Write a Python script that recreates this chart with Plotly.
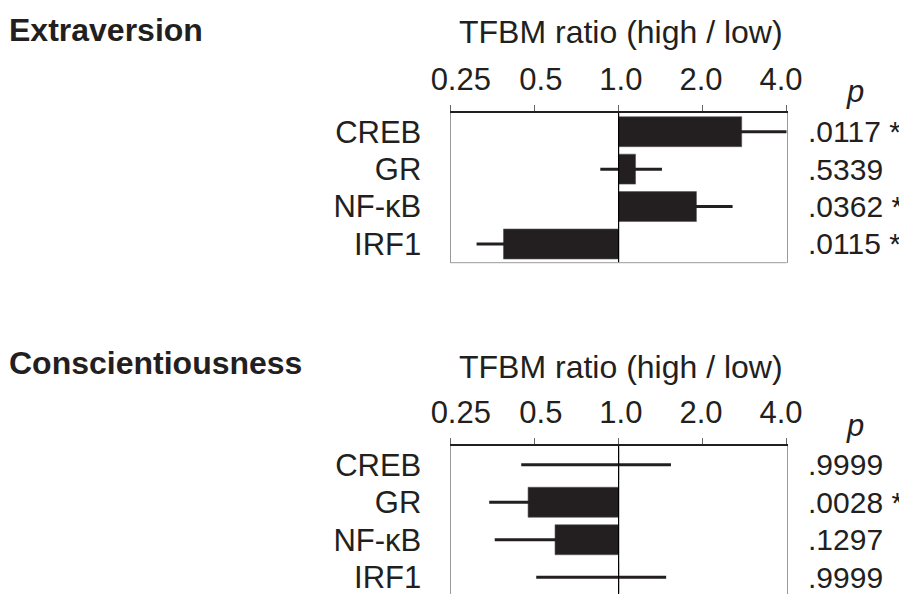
import plotly.graph_objects as go

genes = ["CREB", "GR", "NF-κB", "IRF1"]
tick_vals = [0.25, 0.5, 1.0, 2.0, 4.0]
tick_text = ["0.25", "0.5", "1.0", "2.0", "4.0"]

extra_ratio = [2.76, 1.15, 1.90, 0.387]
extra_lo = [1.89, 0.86, 1.41, 0.31]
extra_hi = [4.0, 1.43, 2.56, 0.48]
extra_p = [".0117 *", ".5339", ".0362 *", ".0115 *"]

consc_ratio = [1.0, 0.474, 0.592, 1.0]
consc_lo = [0.448, 0.344, 0.36, 0.507]
consc_hi = [1.54, 0.65, 0.97, 1.48]
consc_p = [".9999", ".0028 *", ".1297", ".9999"]

panel_titles = ["Extraversion", "Conscientiousness"]
axis_title = "TFBM ratio (high / low)"

FONT = "Liberation Sans, Arial, sans-serif"
INK = "#231f20"
W, H = 907, 594
OFF = 8  # page body margin
rows = list(range(len(genes)))


def px(x):
    return (x - OFF) / W


def py(y):
    return 1 - (y - OFF) / H


fig = go.Figure()

panels = [
    (extra_ratio, extra_lo, extra_hi, "x", "y", "x3"),
    (consc_ratio, consc_lo, consc_hi, "x2", "y2", "x4"),
]

for ratio, lo, hi, xa, ya, xl in panels:
    ex, ey = [], []
    for r, l, h in zip(rows, lo, hi):
        ex += [l, h, None]
        ey += [r, r, None]
    fig.add_trace(go.Scatter(x=ex, y=ey, mode="lines", line=dict(color=INK, width=3),
                             xaxis=xa, yaxis=ya, showlegend=False, hoverinfo="skip"))
    fig.add_trace(go.Bar(y=rows, x=[v - 1 for v in ratio], base=[1.0] * len(ratio),
                         orientation="h", width=0.8,
                         marker=dict(color=INK, line=dict(width=0.6, color="#555")),
                         xaxis=xa, yaxis=ya, showlegend=False))
    fig.add_trace(go.Scatter(x=[1.0, 1.0], y=[-0.5, 3.5], mode="lines",
                             line=dict(color="#000000", width=1.2),
                             xaxis=xa, yaxis=ya, showlegend=False, hoverinfo="skip"))
    # carrier for the tick-label axis
    fig.add_trace(go.Scatter(x=[tick_vals[0], tick_vals[-1]], y=[None, None], mode="markers",
                             xaxis=xl, yaxis=ya, showlegend=False, hoverinfo="skip"))

x_dom = [px(450.5), px(786.7)]
x_lab_dom = [px(460.8), px(781.0)]
y_dom1 = [py(262.7), py(113)]
y_dom2 = [py(596), py(446)]

xcommon = dict(type="log", range=[-0.60206, 0.60206], side="top", tickvals=tick_vals,
               ticks="outside", ticklen=6, tickcolor="#666", showticklabels=False,
               showline=True, linecolor=INK, linewidth=1.5, showgrid=False, zeroline=False,
               domain=x_dom, fixedrange=True, automargin=False)
xlabels = dict(type="log", range=[-0.60206, 0.60206], side="top", tickvals=tick_vals,
               ticktext=tick_text, ticks="outside", ticklen=6, tickcolor="rgba(0,0,0,0)",
               showline=False, showgrid=False, zeroline=False,
               tickfont=dict(family=FONT, size=31, color=INK), ticklabelstandoff=4,
               domain=x_lab_dom, fixedrange=True, automargin=False)
ycommon = dict(tickvals=rows, ticktext=genes, ticks="", showline=True, mirror=True,
               linecolor="#9a9a9a", linewidth=1, showgrid=False, zeroline=False,
               tickfont=dict(family=FONT, size=31, color=INK), ticklabelstandoff=22,
               fixedrange=True, automargin=False, range=[3.5, -0.5])

fig.update_layout(
    width=W, height=H, margin=dict(l=0, r=0, t=0, b=0, autoexpand=False),
    paper_bgcolor="white", plot_bgcolor="rgba(0,0,0,0)", barmode="overlay",
    xaxis=dict(**xcommon, anchor="y"),
    yaxis=dict(**ycommon, domain=y_dom1, anchor="x"),
    xaxis2=dict(**xcommon, anchor="y2"),
    yaxis2=dict(**ycommon, domain=y_dom2, anchor="x2"),
    xaxis3=dict(**xlabels, anchor="y"),
    xaxis4=dict(**xlabels, anchor="y2"),
)

shapes = [dict(type="line", xref=xr + " domain", yref=yr + " domain", x0=0, x1=1, y0=0, y1=0,
               line=dict(color="#9a9a9a", width=1)) for xr, yr in (("x", "y"), ("x2", "y2"))]
fig.update_layout(shapes=shapes)

ann = []
title_y = [(28.3, 30.5), (361.0, 365.8)]
p_head_y = [91.7, 425.2]
for i, title in enumerate(panel_titles):
    ya = "y" if i == 0 else "y2"
    pv = extra_p if i == 0 else consc_p
    ty_bold, ty_axis = title_y[i]
    ann.append(dict(text="<b>" + title + "</b>", x=px(6.5), y=py(ty_bold + 1.5),
                    xref="paper", yref="paper", xanchor="left", yanchor="middle", showarrow=False,
                    font=dict(family=FONT, size=32, color=INK)))
    ann.append(dict(text=axis_title, x=px(620.5), y=py(ty_axis + 1.5),
                    xref="paper", yref="paper", xanchor="center", yanchor="middle", showarrow=False,
                    font=dict(family=FONT, size=32, color=INK)))
    ann.append(dict(text="<i>p</i>", x=px(855), y=py(p_head_y[i]),
                    xref="paper", yref="paper", xanchor="center", yanchor="middle", showarrow=False,
                    font=dict(family=FONT, size=31, color=INK)))
    for r, t in zip(rows, pv):
        ann.append(dict(text=t, x=px(806), y=r, xref="paper", yref=ya,
                        xanchor="left", yanchor="middle", showarrow=False,
                        font=dict(family=FONT, size=30, color=INK)))
fig.update_layout(annotations=ann)

fig.write_html("out.html")
